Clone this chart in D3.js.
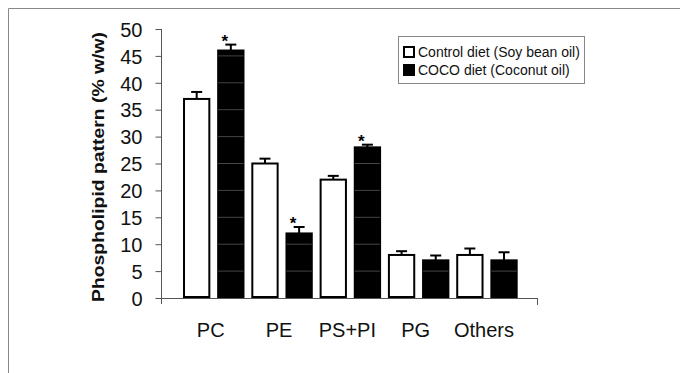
<!DOCTYPE html>
<html><head><meta charset="utf-8">
<script src="https://cdn.jsdelivr.net/npm/d3@7"></script>
<style>body{margin:0;background:#fff}svg{display:block}text{font-family:Arial,"Liberation Sans",sans-serif}</style>
</head><body>
<svg id="c" width="689" height="373"></svg>
<script>
const categories = ["PC", "PE", "PS+PI", "PG", "Others"];
const seriesNames = ["Control diet (Soy bean oil)", "COCO diet (Coconut oil)"];
const controlValues = [37, 25, 22, 8, 8];
const controlErrors = [1.3, 0.9, 0.7, 0.7, 1.2];
const cocoValues = [46, 12, 28, 7, 7];
const cocoErrors = [1.1, 1.2, 0.5, 0.9, 1.5];
const cocoSignificant = [true, true, true, false, false];
const yTicks = [0, 5, 10, 15, 20, 25, 30, 35, 40, 45, 50];
const yTitle = "Phospholipid pattern (% w/w)";

const svg = d3.select("#c");
// frame
svg.append("line").attr("x1",8.5).attr("y1",8.5).attr("x2",680).attr("y2",8.5).attr("stroke","#888").attr("stroke-width",1);
svg.append("line").attr("x1",8.5).attr("y1",8.5).attr("x2",8.5).attr("y2",373).attr("stroke","#888").attr("stroke-width",1);

const y = d3.scaleLinear().domain([0,50]).range([298,29]);
const axL = 161, axR = 538;
const x0 = d3.scaleBand().domain(categories).range([179.6,521.1]).padding(0);
const x1 = d3.scaleBand().domain([0,1]).range([0,x0.bandwidth()]).paddingInner(0.2).paddingOuter(0.1);

const data = categories.map((c,i)=>[
  {c, s:0, v:controlValues[i], e:controlErrors[i], sig:false},
  {c, s:1, v:cocoValues[i], e:cocoErrors[i], sig:cocoSignificant[i]}
]).flat();

// y axis
const ya = svg.append("g").attr("transform",`translate(${axL+0.5},0)`)
  .call(d3.axisLeft(y).tickValues(yTicks).tickSize(6).tickPadding(13).tickFormat(d3.format("d")));
ya.select(".domain").attr("stroke","#555").attr("d",`M-0,${y(50)}V${y(0)+6}`);
ya.selectAll(".tick line").attr("stroke","#555");
ya.selectAll(".tick text").attr("font-size",20).attr("fill","#111").attr("dy","0.36em");

// bars
const g = svg.append("g");
g.selectAll("rect.bar").data(data).join("rect")
  .attr("x",d=>x0(d.c)+x1(d.s)+1).attr("width",x1.bandwidth()-2)
  .attr("y",d=>y(d.v)).attr("height",d=>y(0)-y(d.v)-1)
  .attr("fill",d=>d.s===0?"#fff":"#000").attr("stroke","#000").attr("stroke-width",2);
// faint scan lines inside black bars at tick levels
data.filter(d=>d.s===1).forEach(d=>{
  yTicks.filter(t=>t>0 && t<d.v).forEach(t=>{
    g.append("line").attr("x1",x0(d.c)+x1(d.s)+1).attr("x2",x0(d.c)+x1(d.s)+x1.bandwidth()-1)
     .attr("y1",y(t)).attr("y2",y(t)).attr("stroke","#555").attr("stroke-width",0.8);
  });
});
// error bars
const eb = g.selectAll("g.err").data(data).join("g");
eb.append("line").attr("x1",d=>x0(d.c)+x1(d.s)+x1.bandwidth()/2).attr("x2",d=>x0(d.c)+x1(d.s)+x1.bandwidth()/2)
  .attr("y1",d=>y(d.v)).attr("y2",d=>y(d.v+d.e)).attr("stroke","#000").attr("stroke-width",2);
eb.append("line").attr("x1",d=>x0(d.c)+x1(d.s)+x1.bandwidth()/2-5.5).attr("x2",d=>x0(d.c)+x1(d.s)+x1.bandwidth()/2+5.5)
  .attr("y1",d=>y(d.v+d.e)).attr("y2",d=>y(d.v+d.e)).attr("stroke","#000").attr("stroke-width",2);
// asterisks
g.selectAll("text.sig").data(data.filter(d=>d.sig)).join("text")
  .attr("x",d=>x0(d.c)+x1(d.s)+x1.bandwidth()/2-6).attr("y",d=>y(d.v+d.e)+2)
  .attr("text-anchor","middle").attr("font-size",17).attr("font-weight","bold").text("*");

// x axis
svg.append("line").attr("x1",axL).attr("x2",axR).attr("y1",y(0)+0.5).attr("y2",y(0)+0.5).attr("stroke","#555");
svg.append("line").attr("x1",axR-0.5).attr("x2",axR-0.5).attr("y1",y(0)).attr("y2",y(0)+7).attr("stroke","#555");
svg.selectAll("text.xl").data(categories).join("text")
  .attr("x",d=>x0(d)+x0.bandwidth()/2-3).attr("y",337)
  .attr("text-anchor","middle").attr("font-size",20).attr("fill","#111").text(d=>d);

// y title
svg.append("text").attr("transform",`translate(104,167) rotate(-90)`)
  .attr("text-anchor","middle").attr("font-size",17).attr("font-weight","bold").attr("fill","#111")
  .attr("textLength",270).attr("lengthAdjust","spacingAndGlyphs").text(yTitle);

// legend
const lg = svg.append("g");
lg.append("rect").attr("x",398.5).attr("y",36.5).attr("width",186).attr("height",47).attr("fill","#fff").attr("stroke","#888");
seriesNames.forEach((n,i)=>{
  lg.append("rect").attr("x",404).attr("y",47+i*18).attr("width",10).attr("height",10)
    .attr("fill",i===0?"#fff":"#000").attr("stroke","#000").attr("stroke-width",2);
  lg.append("text").attr("x",418).attr("y",57+i*18).attr("font-size",14).attr("fill","#111").text(n);
});
</script>
</body></html>
